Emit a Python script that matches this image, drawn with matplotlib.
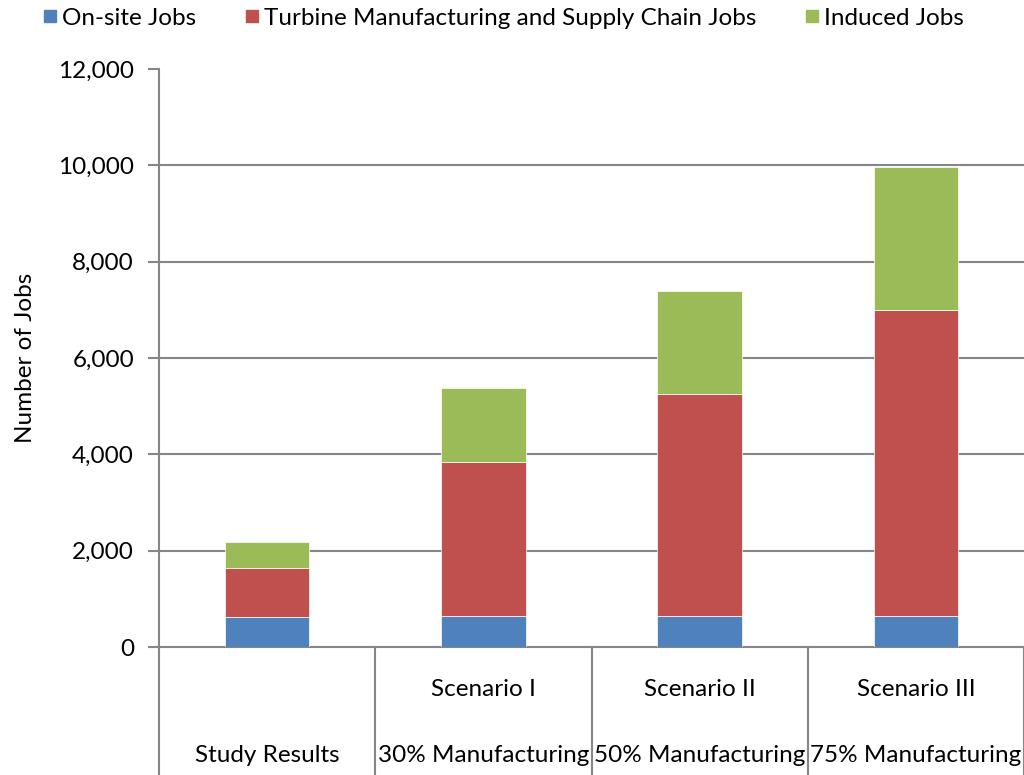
import matplotlib
matplotlib.use('Agg')
import matplotlib.pyplot as plt
import matplotlib.transforms as mtransforms
from matplotlib.lines import Line2D
import numpy as np

# Data
top_labels = ['', 'Scenario I', 'Scenario II', 'Scenario III']
bottom_labels = ['Study Results', '30% Manufacturing', '50% Manufacturing', '75% Manufacturing']
series_names = ['On-site Jobs', 'Turbine Manufacturing and Supply Chain Jobs', 'Induced Jobs']
onsite = [620, 650, 650, 650]
turbine = [1020, 3190, 4600, 6340]
induced = [530, 1540, 2150, 2970]
yticks = [0, 2000, 4000, 6000, 8000, 10000, 12000]

colors = ['#4F81BD', '#C0504D', '#9BBB59']
grey = '#868686'
fs = 17.5

plt.rcParams['font.family'] = ['Lato', 'DejaVu Sans']

fig = plt.figure(figsize=(10.24, 7.75), dpi=100)
ax = fig.add_axes([159/1024, 128/775, 865/1024, 578/775])

x = np.arange(len(bottom_labels))
bottom = np.zeros(len(x))
for vals, col in zip([onsite, turbine, induced], colors):
    ax.bar(x, vals, width=0.39, bottom=bottom, color=col,
           edgecolor='white', linewidth=0.5, zorder=3)
    bottom += np.array(vals)

ax.set_xlim(-0.5, 3.5)
ax.set_ylim(0, 12000)

# gridlines (none at the top tick)
for t in yticks[1:-1]:
    ax.axhline(t, color=grey, lw=1.5, zorder=1)

for s in ['top', 'right']:
    ax.spines[s].set_visible(False)
for s in ['left', 'bottom']:
    ax.spines[s].set_color(grey)
    ax.spines[s].set_linewidth(1.5)

ax.set_yticks(yticks)
ax.set_yticklabels(['{:,}'.format(t) for t in yticks], fontsize=fs)
ax.tick_params(axis='y', length=8, width=1.5, color=grey, pad=10)
ax.set_xticks([])
ax.set_ylabel('Number of Jobs', fontsize=fs, labelpad=16)

# two-level category labels with separators
trans = mtransforms.blended_transform_factory(ax.transData, ax.transAxes)
for i in range(len(x) + 1):
    ax.plot([i - 0.5, i - 0.5], [0, -0.23], transform=trans, color=grey,
            lw=1.5, clip_on=False)
for i in range(len(x)):
    ax.text(i, -0.074, top_labels[i], transform=trans, ha='center',
            va='center', fontsize=fs)
    ax.text(i, -0.187, bottom_labels[i], transform=trans, ha='center',
            va='center', fontsize=fs)

handles = [Line2D([], [], marker='s', ls='', color=c, markersize=8.5) for c in colors]
fig.legend(handles, series_names, loc='upper center', bbox_to_anchor=(0.492, 1.018),
           ncol=3, frameon=False, fontsize=fs, handlelength=0.5,
           handletextpad=0.25, columnspacing=2.05)

fig.savefig('out.png', dpi=100)
